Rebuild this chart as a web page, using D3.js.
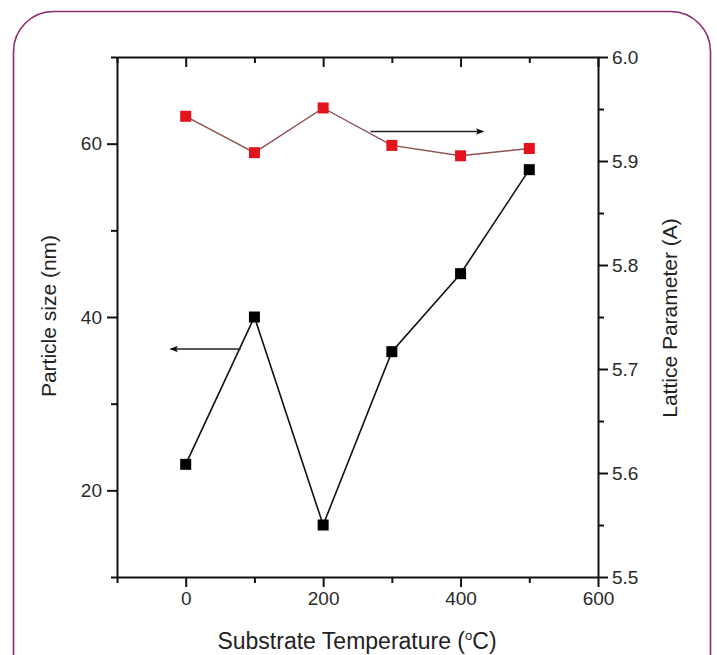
<!DOCTYPE html>
<html>
<head>
<meta charset="utf-8">
<script src="https://cdn.jsdelivr.net/npm/d3@7"></script>
<style>
  body { margin: 0; background: #fff; }
  svg { display: block; font-family: "Liberation Sans", Arial, sans-serif; }
</style>
</head>
<body>
<svg id="chart" width="717" height="655"></svg>
<script>
// data
var temps = [0, 100, 200, 300, 400, 500]
var particleSize = [23, 40, 16, 36, 45, 57]
var latticeParam = [5.943, 5.908, 5.951, 5.915, 5.905, 5.912]

var xTicks = [0, 200, 400, 600]
var xMinor = [-100, 100, 300, 500]
var leftTicks = [20, 40, 60]
var leftMinor = [10, 30, 50, 70]
var rightTicks = [5.5, 5.6, 5.7, 5.8, 5.9, 6.0]
var rightMinor = [5.55, 5.65, 5.75, 5.85, 5.95]

// arrows: [x1, y1, x2, y2] in temperature / particle size units
var arrows = [[269, 61.4, 433, 61.4], [80, 36.3, -22, 36.3]]

var svg = d3.select("#chart")
var plotL = 117, plotR = 598, plotT = 57, plotB = 577

// rounded frame
svg.append("rect")
  .attr("x", 13.5).attr("y", 11.5)
  .attr("width", 697).attr("height", 700)
  .attr("rx", 40).attr("ry", 40)
  .attr("fill", "none")
  .attr("stroke", "#8a2c68")
  .attr("stroke-width", 1.6)

var x = d3.scaleLinear().domain([-100, 600]).range([plotL, plotR])
var yL = d3.scaleLinear().domain([10, 70]).range([plotB, plotT])
var yR = d3.scaleLinear().domain([5.5, 6.0]).range([plotB, plotT])

var defs = svg.append("defs")
defs.append("marker")
  .attr("id", "head")
  .attr("viewBox", "0 0 10 10")
  .attr("refX", 9).attr("refY", 5)
  .attr("markerWidth", 14).attr("markerHeight", 8)
  .attr("markerUnits", "userSpaceOnUse")
  .attr("orient", "auto")
  .append("path")
  .attr("d", "M0,1 L10,5 L0,9 L2,5 Z")
  .attr("fill", "#111")

function styleAxis(g) {
  g.select(".domain").attr("stroke", "#111").attr("stroke-width", 2)
  g.selectAll(".tick line").attr("stroke", "#111").attr("stroke-width", 2)
  g.selectAll(".tick text").attr("fill", "#2a2a2a").attr("font-size", 19)
    .attr("font-family", "Liberation Sans, Arial, sans-serif")
}

function minorTicks(g) {
  g.select(".domain").remove()
  g.selectAll("line").attr("stroke", "#111").attr("stroke-width", 2)
}

// bottom axis
var gx = svg.append("g").attr("transform", "translate(0," + plotB + ")")
gx.call(d3.axisBottom(x).tickValues(xTicks).tickSize(10).tickSizeOuter(0).tickPadding(5))
styleAxis(gx)
svg.append("g").attr("transform", "translate(0," + plotB + ")")
  .call(d3.axisBottom(x).tickValues(xMinor).tickSize(6).tickFormat("").tickSizeOuter(0))
  .call(minorTicks)

// top axis (ticks inward)
var gt = svg.append("g").attr("transform", "translate(0," + plotT + ")")
gt.call(d3.axisTop(x).tickValues(xTicks).tickSize(-10).tickFormat("").tickSizeOuter(0))
styleAxis(gt)
svg.append("g").attr("transform", "translate(0," + plotT + ")")
  .call(d3.axisTop(x).tickValues(xMinor).tickSize(-6).tickFormat("").tickSizeOuter(0))
  .call(minorTicks)

// left axis
var gl = svg.append("g").attr("transform", "translate(" + plotL + ",0)")
gl.call(d3.axisLeft(yL).tickValues(leftTicks).tickSize(10).tickSizeOuter(0).tickPadding(5))
styleAxis(gl)
svg.append("g").attr("transform", "translate(" + plotL + ",0)")
  .call(d3.axisLeft(yL).tickValues(leftMinor).tickSize(6).tickFormat("").tickSizeOuter(0))
  .call(minorTicks)

// right axis
var gr = svg.append("g").attr("transform", "translate(" + plotR + ",0)")
gr.call(d3.axisRight(yR).tickValues(rightTicks).tickSize(10).tickSizeOuter(0).tickPadding(4)
  .tickFormat(d3.format(".1f")))
styleAxis(gr)
svg.append("g").attr("transform", "translate(" + plotR + ",0)")
  .call(d3.axisRight(yR).tickValues(rightMinor).tickSize(6).tickFormat("").tickSizeOuter(0))
  .call(minorTicks)

// axis titles
svg.append("text")
  .attr("x", 357).attr("y", 649)
  .attr("text-anchor", "middle")
  .attr("font-size", 23).attr("fill", "#222")
  .html('Substrate Temperature (<tspan dy="-9" font-size="13">o</tspan><tspan dy="9">C)</tspan>')

svg.append("text")
  .attr("transform", "translate(56,316) rotate(-90)")
  .attr("text-anchor", "middle")
  .attr("font-size", 21).attr("fill", "#222")
  .text("Particle size (nm)")

svg.append("text")
  .attr("transform", "translate(677,318) rotate(-90)")
  .attr("text-anchor", "middle")
  .attr("font-size", 21).attr("fill", "#222")
  .text("Lattice Parameter (A)")

// particle size series (left axis)
var black = temps.map((t, i) => [t, particleSize[i]])
svg.append("path")
  .datum(black)
  .attr("fill", "none").attr("stroke", "#111").attr("stroke-width", 1.6)
  .attr("d", d3.line().x(d => x(d[0])).y(d => yL(d[1])))
svg.selectAll(".blk").data(black).join("rect")
  .attr("class", "blk")
  .attr("x", d => x(d[0]) - 5.5).attr("y", d => yL(d[1]) - 5.5)
  .attr("width", 11).attr("height", 11)
  .attr("fill", "#000")

// lattice parameter series (right axis)
var red = temps.map((t, i) => [t, latticeParam[i]])
svg.append("path")
  .datum(red)
  .attr("fill", "none").attr("stroke", "#8e5050").attr("stroke-width", 1.4)
  .attr("d", d3.line().x(d => x(d[0])).y(d => yR(d[1])))
svg.selectAll(".red").data(red).join("rect")
  .attr("class", "red")
  .attr("x", d => x(d[0]) - 5.5).attr("y", d => yR(d[1]) - 5.5)
  .attr("width", 11).attr("height", 11)
  .attr("fill", "#e3121c")

// arrows
svg.selectAll(".arrow").data(arrows).join("line")
  .attr("class", "arrow")
  .attr("x1", d => x(d[0])).attr("y1", d => yL(d[1]))
  .attr("x2", d => x(d[2])).attr("y2", d => yL(d[3]))
  .attr("stroke", "#222").attr("stroke-width", 1.5)
  .attr("marker-end", "url(#head)")
</script>
</body>
</html>
